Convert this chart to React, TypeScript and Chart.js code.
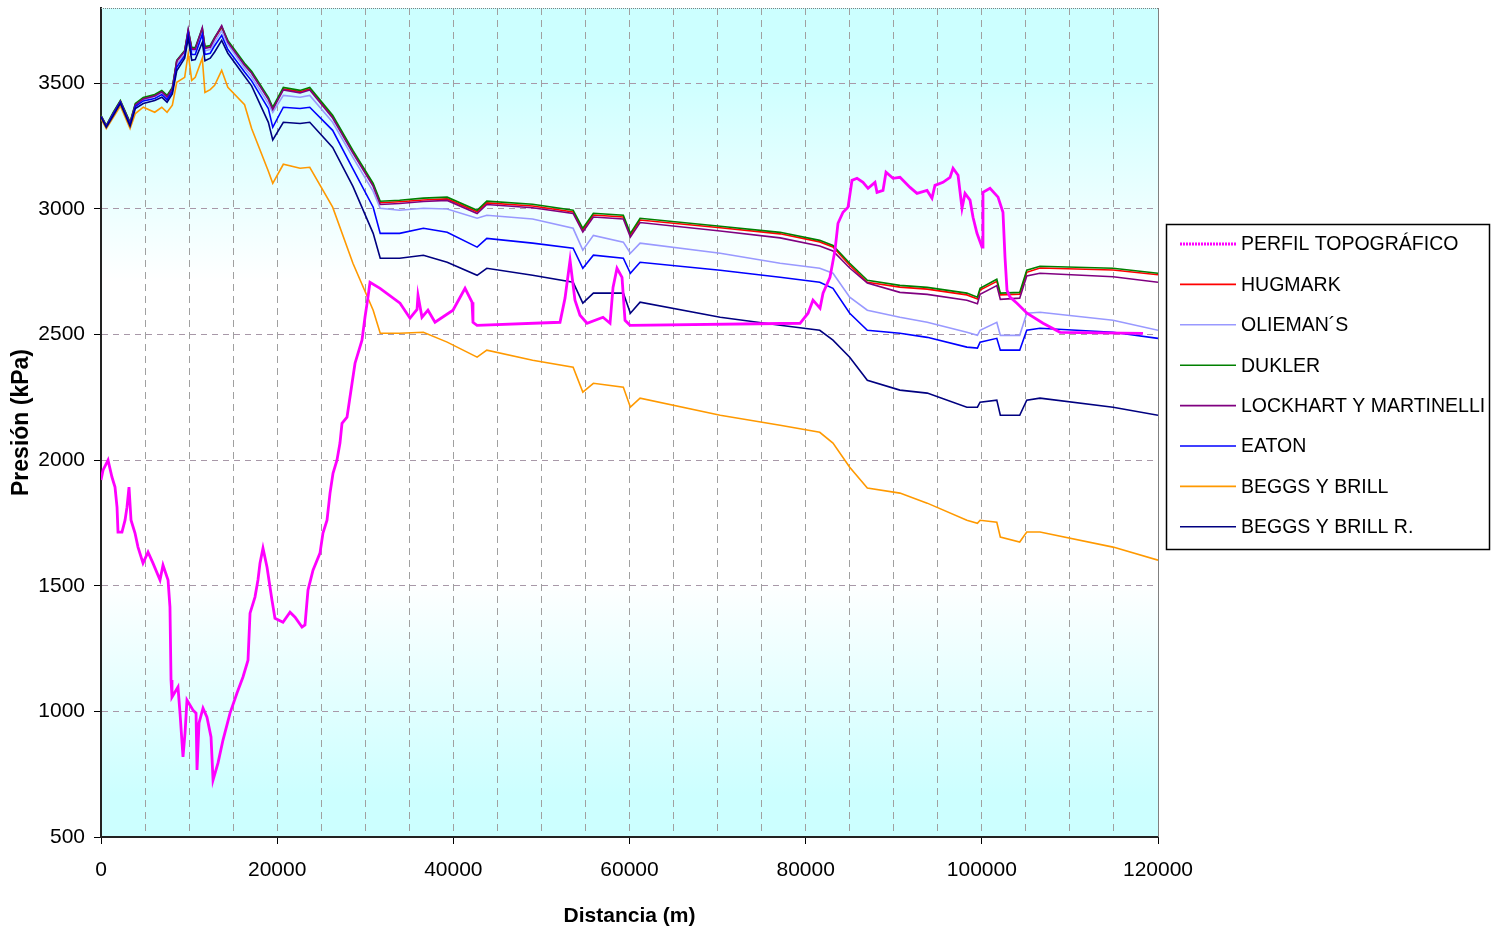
import React, { useEffect, useRef } from "react";
import { Chart, registerables } from "chart.js";

Chart.register(...registerables);

// Distances (m) shared by the pressure curves
const DIST = [0, 600, 1400, 2200, 3300, 3900, 4800, 6100, 6900, 7500,
  8100, 8600, 9500, 9900, 10300, 10700, 11500, 11800, 12400, 12900,
  13700, 14400, 16300, 17100, 19000, 19500, 20700, 22600, 23700, 26300,
  28600, 30900, 31700, 33900, 36600, 39300, 42700, 43800, 49000, 53600,
  54700, 55900, 59300, 60100, 61200, 70300, 77100, 81600, 83100, 85000,
  87000, 90700, 93800, 98300, 99500, 99800, 101700, 102100, 104300, 105100,
  106600, 114900, 120000];

const HUGMARK = [3371, 3331, 3382, 3429, 3343, 3417, 3440, 3452, 3468, 3448,
  3480, 3588, 3627, 3706, 3638, 3638, 3714, 3642, 3646, 3678,
  3722, 3666, 3575, 3543, 3439, 3400, 3478, 3467, 3478, 3367,
  3227, 3096, 3025, 3029, 3036, 3040, 2989, 3024, 3012, 2988,
  2916, 2976, 2968, 2896, 2956, 2925, 2901, 2869, 2849, 2776,
  2708, 2689, 2681, 2658, 2642, 2677, 2712, 2658, 2661, 2748,
  2765, 2757, 2738];

const OLIEMAN = [3370, 3330, 3382, 3428, 3340, 3414, 3436, 3448, 3462, 3442,
  3474, 3575, 3620, 3700, 3630, 3630, 3705, 3630, 3635, 3665,
  3710, 3655, 3560, 3525, 3420, 3385, 3452, 3445, 3452, 3345,
  3205, 3070, 3003, 2995, 3003, 3000, 2963, 2975, 2960, 2923,
  2836, 2895, 2868, 2824, 2864, 2824, 2784, 2764, 2744, 2649,
  2597, 2569, 2549, 2509, 2497, 2517, 2549, 2497, 2497, 2585,
  2589, 2557, 2517];

const DUKLER = [3373, 3333, 3385, 3432, 3345, 3420, 3444, 3456, 3472, 3452,
  3484, 3592, 3631, 3711, 3643, 3643, 3719, 3647, 3651, 3683,
  3727, 3671, 3580, 3548, 3444, 3405, 3484, 3472, 3484, 3373,
  3233, 3102, 3031, 3035, 3043, 3047, 2995, 3031, 3019, 2995,
  2923, 2983, 2975, 2903, 2963, 2931, 2907, 2875, 2855, 2784,
  2716, 2696, 2688, 2665, 2649, 2684, 2720, 2665, 2668, 2756,
  2772, 2764, 2744];

const LOCKHART = [3370, 3330, 3380, 3428, 3340, 3414, 3438, 3450, 3466, 3446,
  3478, 3590, 3628, 3715, 3636, 3636, 3722, 3640, 3644, 3680,
  3730, 3664, 3572, 3540, 3436, 3396, 3474, 3462, 3474, 3362,
  3222, 3090, 3018, 3022, 3030, 3034, 2982, 3018, 3005, 2982,
  2908, 2968, 2960, 2888, 2946, 2912, 2885, 2853, 2833, 2765,
  2705, 2668, 2660, 2637, 2623, 2660, 2695, 2640, 2645, 2733,
  2744, 2730, 2708];

const EATON = [3368, 3328, 3378, 3425, 3335, 3408, 3430, 3440, 3455, 3435,
  3468, 3565, 3610, 3695, 3615, 3615, 3695, 3615, 3620, 3650,
  3691, 3635, 3545, 3510, 3400, 3325, 3405, 3400, 3405, 3313,
  3160, 3007, 2903, 2903, 2923, 2907, 2848, 2883, 2864, 2844,
  2764, 2816, 2804, 2744, 2788, 2756, 2728, 2708, 2684, 2585,
  2517, 2505, 2489, 2450, 2446, 2470, 2485, 2438, 2438, 2517,
  2525, 2509, 2485];

const BEGGS_BRILL = [3360, 3320, 3365, 3410, 3320, 3380, 3405, 3385, 3405, 3385,
  3413, 3504, 3524, 3619, 3512, 3524, 3600, 3464, 3475, 3492,
  3552, 3484, 3415, 3320, 3150, 3102, 3178, 3162, 3166, 3007,
  2784, 2597, 2505, 2505, 2509, 2470, 2410, 2438, 2398, 2370,
  2271, 2306, 2290, 2211, 2247, 2179, 2139, 2111, 2068, 1972,
  1889, 1869, 1829, 1761, 1749, 1761, 1753, 1694, 1674, 1714,
  1714, 1654, 1602];

const BEGGS_BRILL_R = [3365, 3325, 3372, 3420, 3330, 3400, 3420, 3432, 3445, 3425,
  3458, 3550, 3600, 3679, 3592, 3595, 3663, 3590, 3600, 3625,
  3671, 3620, 3528, 3490, 3345, 3275, 3345, 3340, 3345, 3245,
  3090, 2903, 2804, 2804, 2816, 2788, 2736, 2764, 2736, 2708,
  2625, 2665, 2665, 2585, 2629, 2569, 2537, 2517, 2478, 2410,
  2318, 2279, 2267, 2211, 2211, 2231, 2239, 2179, 2179, 2239,
  2247, 2211, 2179];

// Topographic profile (its own distances)
const TOPO_DIST = [0, 230, 800, 1250, 1590, 1820, 1930, 2380, 2730, 2950,
  3180, 3410, 3860, 4200, 4770, 5340, 5900, 6700, 7040, 7610,
  7830, 7950, 8060, 8740, 8970, 9310, 9540, 9760, 10450, 10790,
  10900, 11130, 11580, 12030, 12490, 12720, 13280, 13850, 14650, 15440,
  16120, 16690, 16920, 17480, 17820, 18050, 18390, 18850, 19410, 19750,
  20660, 21460, 22030, 22820, 23160, 23500, 24070, 24860, 25200, 25660,
  26000, 26340, 26790, 27130, 27360, 27930, 28500, 28840, 29630, 29970,
  30310, 30540, 31680, 33950, 35080, 35880, 35990, 36440, 37120, 37920,
  39960, 41330, 42120, 42230, 42690, 52110, 52680, 53250, 53810, 54380,
  55180, 56990, 57790, 58130, 58580, 59150, 59490, 60060, 79360, 80270,
  80830, 81630, 81970, 82760, 83330, 83670, 84240, 84810, 85260, 85830,
  86510, 87080, 87870, 88100, 88780, 89120, 89920, 90710, 91850, 92640,
  93780, 94340, 94680, 95590, 96390, 96730, 97300, 97750, 98090, 98660,
  99000, 99450, 100020, 100130, 100930, 101840, 102400, 102630, 102860, 103200,
  103990, 105130, 106950, 108880, 118300];

const TOPO = [1921, 1960, 2000, 1932, 1893, 1813, 1714, 1714, 1761, 1813,
  1893, 1761, 1710, 1654, 1590, 1634, 1590, 1523, 1582, 1523,
  1415, 1125, 1057, 1097, 993, 819, 914, 1045, 1005, 993,
  767, 954, 1013, 977, 898, 727, 794, 886, 993, 1073,
  1137, 1204, 1391, 1455, 1523, 1590, 1650, 1574, 1443, 1371,
  1355, 1395, 1375, 1336, 1344, 1483, 1562, 1630, 1710, 1761,
  1869, 1948, 2000, 2068, 2147, 2171, 2306, 2386, 2478, 2569,
  2649, 2708, 2684, 2625, 2565, 2600, 2656, 2569, 2597, 2549,
  2597, 2684, 2629, 2549, 2537, 2549, 2645, 2796, 2637, 2577,
  2545, 2569, 2545, 2688, 2764, 2728, 2557, 2537, 2545, 2585,
  2637, 2605, 2665, 2728, 2836, 2943, 2987, 3007, 3114, 3122,
  3106, 3082, 3106, 3066, 3074, 3146, 3122, 3126, 3086, 3062,
  3074, 3043, 3094, 3106, 3126, 3162, 3134, 3003, 3062, 3035,
  2967, 2903, 2848, 3066, 3082, 3047, 2987, 2808, 2676, 2649,
  2625, 2585, 2545, 2509, 2505];

const SERIES_NAMES = ["PERFIL TOPOGRÁFICO", "HUGMARK", "OLIEMAN´S", "DUKLER",
  "LOCKHART Y MARTINELLI", "EATON", "BEGGS Y BRILL", "BEGGS Y BRILL R."];
const SERIES_COLORS = ["#FF00FF", "#FF0000", "#9999FF", "#008000",
  "#800080", "#0000FF", "#FF9900", "#000080"];

// Axis ticks
const Y_TICKS = [500, 1000, 1500, 2000, 2500, 3000, 3500];
const X_GRID_STEP = 5000;
const X_LABEL_STEP = 20000;

const X_TITLE = "Distancia (m)";
const Y_TITLE = "Presión (kPa)";
const FONT = "'Liberation Sans', Arial, sans-serif";

export default function App() {
  const ref = useRef<HTMLCanvasElement>(null);

  useEffect(() => {
    document.body.style.margin = "0";
    const canvas = ref.current;
    if (!canvas) return;

    const pts = (xs: number[], ys: number[]) => xs.map((x, i) => ({ x, y: ys[i] }));
    const values = [TOPO, HUGMARK, OLIEMAN, DUKLER, LOCKHART, EATON, BEGGS_BRILL, BEGGS_BRILL_R];
    const drawOrder = [0, 8, 7, 6, 5, 4, 3, 2];

    const datasets = SERIES_NAMES.map((name, i) => ({
      label: name,
      data: i === 0 ? pts(TOPO_DIST, TOPO) : pts(DIST, values[i]),
      borderColor: SERIES_COLORS[i],
      backgroundColor: SERIES_COLORS[i],
      borderWidth: i === 0 ? 2.8 : 1.6,
      pointRadius: 0,
      tension: 0,
      fill: false,
      order: drawOrder[i],
    }));

    const bgPlugin = {
      id: "plotBg",
      beforeDraw(chart: any) {
        const { ctx, chartArea: a } = chart;
        const g = ctx.createLinearGradient(0, a.top, 0, a.bottom);
        g.addColorStop(0, "#ccffff");
        g.addColorStop(0.08, "#ccffff");
        g.addColorStop(0.33, "#ffffff");
        g.addColorStop(0.69, "#ffffff");
        g.addColorStop(0.95, "#ccffff");
        g.addColorStop(1, "#ccffff");
        ctx.save();
        ctx.fillStyle = g;
        ctx.fillRect(a.left, a.top, a.right - a.left, a.bottom - a.top);
        ctx.restore();
      },
    };

    const framePlugin = {
      id: "frameLegend",
      afterDraw(chart: any) {
        const { ctx, chartArea: a } = chart;
        ctx.save();
        ctx.strokeStyle = "#808080";
        ctx.lineWidth = 1;
        ctx.setLineDash([1, 1]);
        ctx.beginPath();
        ctx.moveTo(a.left, a.top + 0.5);
        ctx.lineTo(a.right, a.top + 0.5);
        ctx.stroke();
        ctx.setLineDash([]);
        ctx.beginPath();
        ctx.moveTo(a.right + 0.5, a.top);
        ctx.lineTo(a.right + 0.5, a.bottom);
        ctx.stroke();

        // legend box
        const bx = 1166.5, by = 224.5, bw = 323, bh = 325;
        ctx.fillStyle = "#ffffff";
        ctx.fillRect(bx, by, bw, bh);
        ctx.strokeStyle = "#000000";
        ctx.lineWidth = 1.5;
        ctx.strokeRect(bx, by, bw, bh);
        ctx.font = `19.5px ${FONT}`;
        ctx.textBaseline = "middle";
        ctx.textAlign = "left";
        SERIES_NAMES.forEach((name, i) => {
          const y = 244 + i * 40.4;
          ctx.strokeStyle = SERIES_COLORS[i];
          ctx.lineWidth = i === 0 ? 3 : 1.6;
          ctx.setLineDash(i === 0 ? [2, 1] : []);
          ctx.beginPath();
          ctx.moveTo(1180, y);
          ctx.lineTo(1236, y);
          ctx.stroke();
          ctx.setLineDash([]);
          ctx.fillStyle = "#000000";
          ctx.fillText(name, 1241, y + 1);
        });
        ctx.restore();
      },
    };

    const chart = new Chart(canvas, {
      type: "line",
      data: { datasets },
      options: {
        animation: false,
        responsive: true,
        maintainAspectRatio: false,
        layout: { padding: { left: 0, top: 8, right: 333, bottom: 0 } },
        plugins: { legend: { display: false }, tooltip: { enabled: false } },
        scales: {
          x: {
            type: "linear",
            min: 0,
            max: 120000,
            afterFit: (s: any) => {
              s.height = 97;
              s.paddingLeft = 0;
              s.paddingRight = 0;
            },
            afterBuildTicks: (s: any) => {
              const t = [];
              for (let v = 0; v <= 120000; v += X_GRID_STEP) t.push({ value: v });
              s.ticks = t;
            },
            ticks: {
              autoSkip: false,
              maxRotation: 0,
              padding: 14,
              color: "#000",
              font: { family: FONT, size: 21 },
              callback: (v: any) => (Number(v) % X_LABEL_STEP === 0 ? String(v) : ""),
            },
            grid: {
              color: "#a0a0a0",
              lineWidth: 1,
              tickLength: 7,
              tickColor: (ctx: any) =>
                ctx.tick && ctx.tick.value % X_LABEL_STEP === 0 ? "#000000" : "rgba(0,0,0,0)",
            },
            border: { color: "#222", width: 2, dash: [7, 5] },
            title: {
              display: true,
              text: X_TITLE,
              color: "#000",
              font: { family: FONT, size: 21, weight: "bold" },
              padding: { top: 0, bottom: 5 },
            },
          },
          y: {
            type: "linear",
            min: 500,
            max: 3800,
            afterFit: (s: any) => {
              s.width = 101;
              s.paddingTop = 0;
              s.paddingBottom = 0;
            },
            afterBuildTicks: (s: any) => {
              s.ticks = Y_TICKS.map((v) => ({ value: v }));
            },
            ticks: {
              padding: 9,
              color: "#000",
              font: { family: FONT, size: 21 },
              callback: (v: any) => String(v),
            },
            grid: { color: "#a898a8", lineWidth: 1, tickLength: 7, tickColor: "#000" },
            border: { color: "#222", width: 2, dash: [6, 5] },
            title: {
              display: true,
              text: Y_TITLE,
              color: "#000",
              font: { family: FONT, size: 23, weight: "bold" },
              padding: { top: 8, bottom: 0 },
            },
          },
        },
      },
      plugins: [bgPlugin, framePlugin],
    } as any);

    return () => chart.destroy();
  }, []);

  return (
    <div style={{ width: 1491, height: 934, position: "relative" }}>
      <canvas ref={ref} />
    </div>
  );
}
